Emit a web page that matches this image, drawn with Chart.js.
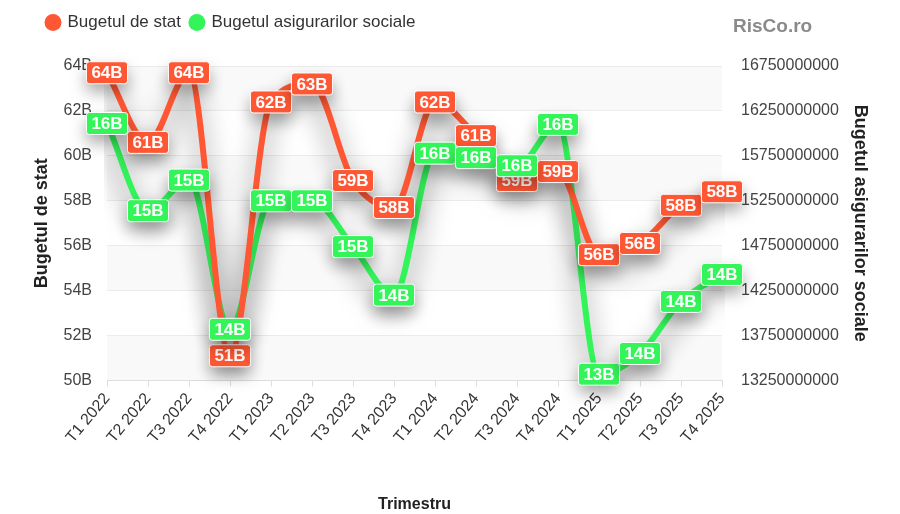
<!DOCTYPE html>
<html>
<head>
<meta charset="utf-8">
<script src="https://cdn.jsdelivr.net/npm/chart.js@4.4.1/dist/chart.umd.min.js"></script>
<style>
  html, body { margin: 0; padding: 0; background: #fff; }
  #wrap { width: 900px; height: 514px; position: relative; }
</style>
</head>
<body>
<div id="wrap"><canvas id="budgetChart"></canvas></div>
<script>
const quarters = ['T1 2022', 'T2 2022', 'T3 2022', 'T4 2022', 'T1 2023', 'T2 2023', 'T3 2023', 'T4 2023',
  'T1 2024', 'T2 2024', 'T3 2024', 'T4 2024', 'T1 2025', 'T2 2025', 'T3 2025', 'T4 2025'];

// Bugetul de stat, miliarde (left axis)
const stateBudget = [63.7, 60.6, 63.7, 51.1, 62.4, 63.2, 58.9, 57.7, 62.4, 60.9, 58.9, 59.3, 55.6, 56.1, 57.8, 58.4];

// Bugetul asigurarilor sociale, lei (right axis)
const socialBudget = [16110000000, 15140000000, 15480000000, 13820000000, 15250000000, 15250000000, 14740000000, 14200000000,
  15780000000, 15730000000, 15640000000, 16100000000, 13320000000, 13550000000, 14130000000, 14430000000];

const redColor = '#FF5733';
const greenColor = '#33F55A';

// faint alternating bands behind the grid
const bandPlugin = {
  id: 'bands',
  beforeDraw(chart) {
    const { ctx, chartArea } = chart;
    const yScale = chart.scales.y;
    const ticks = yScale.ticks;
    ctx.save();
    ctx.fillStyle = 'rgba(0,0,0,0.025)';
    for (let i = ticks.length - 1; i > 0; i -= 2) {
      const yTop = yScale.getPixelForValue(ticks[i].value);
      const yBot = yScale.getPixelForValue(ticks[i - 1].value);
      ctx.fillRect(chartArea.left, yTop, chartArea.right - chartArea.left, yBot - yTop);
    }
    ctx.restore();
  }
};

// extra room under the legend, and nudge it to the right
const legendGapPlugin = {
  id: 'legendGap',
  beforeInit(chart) {
    const origFit = chart.legend.fit;
    chart.legend.fit = function () {
      origFit.bind(this)();
      this.height += 25;
    };
  },
  afterLayout(chart) {
    chart.legend.left += 17;
    chart.legend.right += 17;
  }
};

// gray drop shadow under the lines
const shadowPlugin = {
  id: 'lineShadow',
  beforeDatasetDraw(chart) {
    const ctx = chart.ctx;
    ctx.save();
    ctx.shadowColor = 'rgba(0,0,0,0.6)';
    ctx.shadowBlur = 26;
    ctx.shadowOffsetX = 0;
    ctx.shadowOffsetY = 14;
  },
  afterDatasetDraw(chart) {
    chart.ctx.restore();
  }
};

// value boxes on every point
const valueLabelPlugin = {
  id: 'valueLabels',
  afterDatasetsDraw(chart) {
    const ctx = chart.ctx;
    ctx.save();
    ctx.font = 'bold 17px "Liberation Sans", Arial, sans-serif';
    ctx.textAlign = 'center';
    ctx.textBaseline = 'middle';
    chart.data.datasets.forEach((ds, di) => {
      const meta = chart.getDatasetMeta(di);
      meta.data.forEach((pt, i) => {
        const v = ds.data[i];
        const text = (di === 0 ? Math.round(v) : Math.round(v / 1e9)) + 'B';
        const w = ctx.measureText(text).width + 10;
        const h = 22;
        ctx.beginPath();
        ctx.roundRect(pt.x - w / 2, pt.y - h / 2, w, h, 3);
        ctx.shadowColor = 'rgba(0,0,0,0.35)';
        ctx.shadowBlur = 16;
        ctx.shadowOffsetY = 8;
        ctx.fillStyle = ds.borderColor;
        ctx.fill();
        ctx.shadowColor = 'transparent';
        ctx.lineWidth = 1;
        ctx.strokeStyle = '#ffffff';
        ctx.stroke();
        ctx.fillStyle = '#ffffff';
        ctx.fillText(text, pt.x, pt.y + 1);
      });
    });
    ctx.restore();
  }
};

const watermarkPlugin = {
  id: 'watermark',
  afterDraw(chart) {
    const ctx = chart.ctx;
    ctx.save();
    ctx.font = 'bold 19px "Liberation Sans", Arial, sans-serif';
    ctx.fillStyle = '#8a8a8a';
    ctx.textBaseline = 'alphabetic';
    ctx.fillText('RisCo.ro', 733, 32);
    ctx.restore();
  }
};

Chart.defaults.font.family = '"Liberation Sans", Arial, sans-serif';
Chart.defaults.color = '#444';

const ctx = document.getElementById('budgetChart').getContext('2d');
const chart = new Chart(ctx, {
  type: 'line',
  data: {
    labels: quarters,
    datasets: [
      {
        label: 'Bugetul de stat',
        data: stateBudget,
        yAxisID: 'y',
        borderColor: redColor,
        backgroundColor: redColor,
        borderWidth: 6,
        pointRadius: 0,
        cubicInterpolationMode: 'monotone',
        fill: false
      },
      {
        label: 'Bugetul asigurarilor sociale',
        data: socialBudget,
        yAxisID: 'y1',
        borderColor: greenColor,
        backgroundColor: greenColor,
        borderWidth: 6,
        pointRadius: 0,
        cubicInterpolationMode: 'monotone',
        fill: false
      }
    ]
  },
  options: {
    responsive: true,
    maintainAspectRatio: false,
    animation: false,
    layout: { padding: { left: 20, right: 29, top: 4, bottom: 0 } },
    plugins: {
      legend: {
        position: 'top',
        align: 'start',
        labels: {
          usePointStyle: true,
          pointStyle: 'circle',
          boxWidth: 12,
          boxHeight: 12,
          padding: 10,
          color: '#333',
          font: { size: 17 },
          generateLabels(chart) {
            return Chart.defaults.plugins.legend.labels.generateLabels(chart).map(item => {
              item.lineWidth = 0;
              return item;
            });
          }
        }
      },
      tooltip: { enabled: false }
    },
    scales: {
      x: {
        grid: { drawOnChartArea: false, tickLength: 6, color: '#ddd' },
        border: { color: '#ddd' },
        ticks: { maxRotation: 50, minRotation: 50, autoSkip: false, font: { size: 16 }, color: '#333' },
        title: { display: true, text: 'Trimestru', font: { size: 16, weight: 'bold' }, color: '#222', padding: { top: 45, bottom: 0 } }
      },
      y: {
        position: 'left',
        min: 50,
        max: 64,
        grid: { color: '#ececec', drawTicks: false },
        border: { display: false },
        ticks: { stepSize: 2, padding: 15, font: { size: 16 }, color: '#444', callback: v => v + 'B' },
        title: { display: true, text: 'Bugetul de stat', font: { size: 18, weight: 'bold' }, color: '#222', padding: { top: 11, bottom: 0 } },
        afterFit(scale) { scale.width = 87; }
      },
      y1: {
        position: 'right',
        min: 13250000000,
        max: 16750000000,
        grid: { drawOnChartArea: false, drawTicks: false },
        border: { display: false },
        ticks: { stepSize: 500000000, padding: 19, font: { size: 16 }, color: '#444', callback: v => String(v) },
        title: { display: true, text: 'Bugetul asigurarilor sociale', font: { size: 18, weight: 'bold' }, color: '#222', padding: { top: 0, bottom: 0 } },
        afterFit(scale) { scale.width = 149; }
      }
    }
  },
  plugins: [bandPlugin, legendGapPlugin, shadowPlugin, valueLabelPlugin, watermarkPlugin]
});
</script>
</body>
</html>
